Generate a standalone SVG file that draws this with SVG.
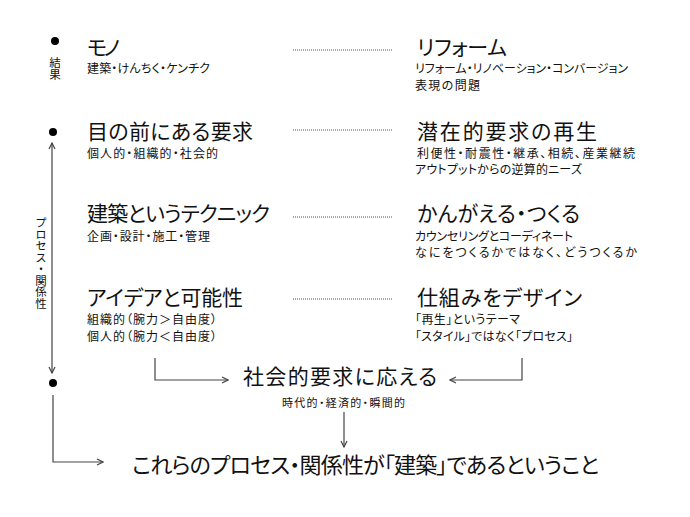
<svg xmlns="http://www.w3.org/2000/svg" width="690" height="517" viewBox="0 0 690 517">
<style>
text{font-family:"Noto Sans CJK JP","Noto Sans CJK SC",sans-serif;fill:#111;font-feature-settings:"palt";}
.h{font-size:21px;}
.s{font-size:12px;}
.dot{fill:#000;}
.dl{stroke:#555;stroke-width:1;stroke-dasharray:1 1;fill:none;}
.ar{stroke:#444;stroke-width:1.2;fill:none;}
.v{font-size:11.5px;writing-mode:vertical-rl;font-feature-settings:normal;}
</style>
<defs>
<marker id="ah" viewBox="0 0 8 8" markerWidth="8" markerHeight="8" refX="7" refY="4" orient="auto-start-reverse" markerUnits="userSpaceOnUse">
<path d="M1,1 L7,4 L1,7" fill="none" stroke="#444" stroke-width="1.2"/>
</marker>
</defs>
<rect width="690" height="517" fill="#fff"/>
<g id="axis">
<circle class="dot" cx="55" cy="41" r="4"/>
<circle class="dot" cx="53" cy="132" r="4"/>
<circle class="dot" cx="53" cy="383" r="4"/>
<text class="v" x="55" y="57">結果</text>
<text class="v" x="41" y="217">プロセス・関係性</text>
</g>
<g id="connectors">
<line class="dl" x1="293" y1="50" x2="393" y2="50"/>
<line class="dl" x1="293" y1="130" x2="393" y2="130"/>
<line class="dl" x1="293" y1="217" x2="393" y2="217"/>
<line class="dl" x1="293" y1="299" x2="393" y2="299"/>
<line class="ar" x1="52" y1="143" x2="52" y2="373" marker-start="url(#ah)" marker-end="url(#ah)"/>
<path class="ar" d="M155,358 V380 H228" marker-end="url(#ah)"/>
<path class="ar" d="M522,358 V380 H450" marker-end="url(#ah)"/>
<path class="ar" d="M344,412 V447" marker-end="url(#ah)"/>
<path class="ar" d="M53,395 V462 H103" marker-end="url(#ah)"/>
</g>
<g id="mono">
<text class="h" x="87" y="55" textLength="33">モノ</text>
<text class="s" x="87" y="73" textLength="123">建築・けんちく・ケンチク</text>
</g>
<g id="reform">
<text class="h" x="417" y="55" textLength="90">リフォーム</text>
<text class="s" x="415" y="73" textLength="213">リフォーム・リノベーション・コンバージョン</text>
<text class="s" x="415" y="90" textLength="65">表現の問題</text>
</g>
<g id="youkyu">
<text class="h" x="87" y="139" textLength="166">目の前にある要求</text>
<text class="s" x="87" y="158" textLength="131">個人的・組織的・社会的</text>
</g>
<g id="saisei">
<text class="h" x="417" y="139" textLength="180">潜在的要求の再生</text>
<text class="s" x="417" y="158" textLength="218">利便性・耐震性・継承、相続、産業継続</text>
<text class="s" x="415" y="174" textLength="167">アウトプットからの逆算的ニーズ</text>
</g>
<g id="technic">
<text class="h" x="87" y="221" textLength="183">建築というテクニック</text>
<text class="s" x="87" y="241" textLength="123">企画・設計・施工・管理</text>
</g>
<g id="kangaeru">
<text class="h" x="417" y="221" textLength="163">かんがえる・つくる</text>
<text class="s" x="415" y="241" textLength="158">カウンセリングとコーディネート</text>
<text class="s" x="415" y="257" textLength="222">なにをつくるかではなく、どうつくるか</text>
</g>
<g id="idea">
<text class="h" x="87" y="305" textLength="156">アイデアと可能性</text>
<text class="s" x="87" y="324" textLength="130">組織的（腕力＞自由度）</text>
<text class="s" x="87" y="341" textLength="130">個人的（腕力＜自由度）</text>
</g>
<g id="shikumi">
<text class="h" x="417" y="305" textLength="165">仕組みをデザイン</text>
<text class="s" x="415" y="324" textLength="105">「再生」というテーマ</text>
<text class="s" x="415" y="341" textLength="158">「スタイル」ではなく「プロセス」</text>
</g>
<g id="shakai">
<text class="h" x="243" y="384" textLength="194">社会的要求に応える</text>
<text style="font-size:11px" x="282" y="407" textLength="123">時代的・経済的・瞬間的</text>
</g>
<g id="conclusion">
<text style="font-size:22px" x="132" y="473" textLength="467">これらのプロセス・関係性が「建築」であるということ</text>
</g>
</svg>
